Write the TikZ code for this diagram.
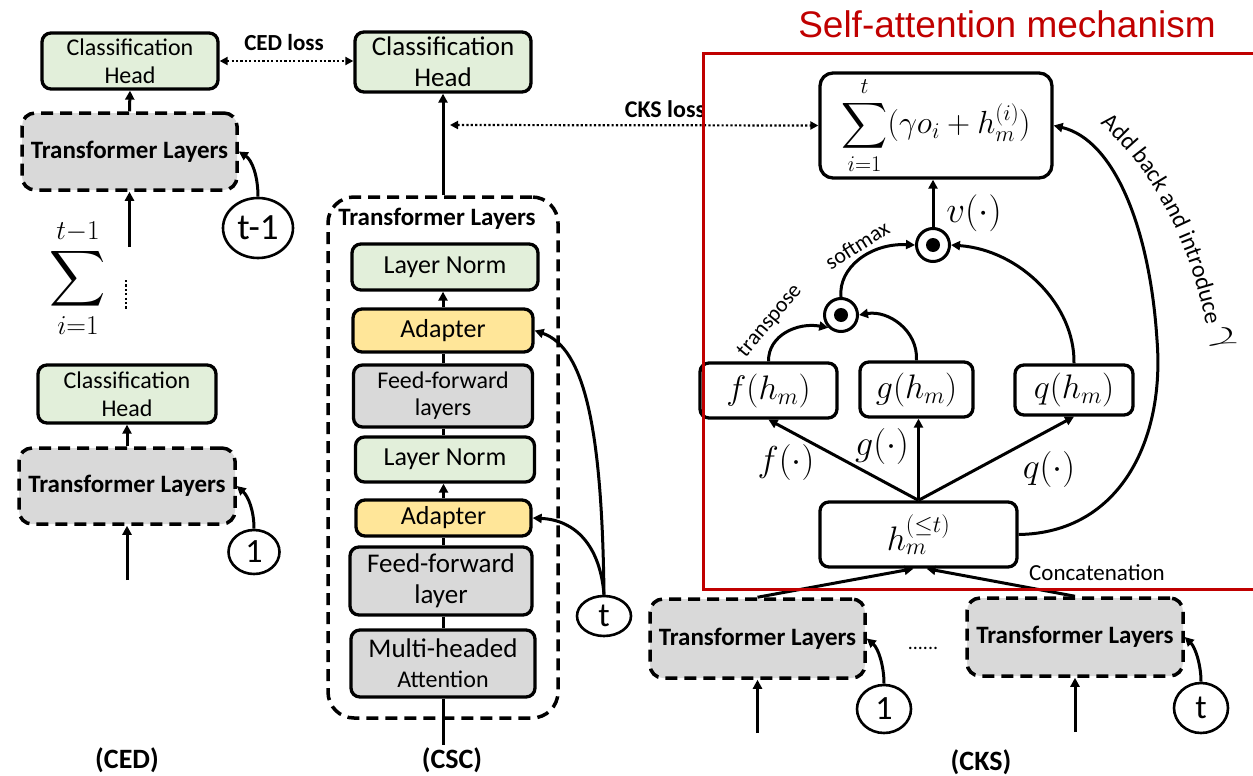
\RequirePackage{fix-cm}
\documentclass[tikz,border=0pt]{standalone}
\usepackage{exscale}
\usepackage[no-math]{fontspec}
\setmainfont{Carlito}
\newfontfamily\titlefont{Liberation Sans}
\usetikzlibrary{arrows.meta,shapes.geometric,decorations.text,calc}
\DeclareFontShape{OMX}{cmex}{m}{n}{<-> cmex10}{}

\newcommand\fsz[2]{\fontsize{#1}{#2}\selectfont}

\definecolor{boxgreen}{HTML}{E2EFDA}
\definecolor{boxgrey}{HTML}{D9D9D9}
\definecolor{boxyellow}{HTML}{FFE699}
\definecolor{framered}{HTML}{C00000}

\tikzset{
  solidbox/.style={draw, line width=3.3pt, rounded corners=9pt, align=center, inner sep=0pt},
  greenbox/.style={solidbox, fill=boxgreen},
  greybox/.style={solidbox, fill=boxgrey},
  yellowbox/.style={solidbox, fill=boxyellow},
  mathbox/.style={solidbox, fill=white},
  layerbox/.style={draw, fill=boxgrey, line width=3.5pt, dash pattern=on 12pt off 7pt,
    rounded corners=13pt, align=center, inner sep=0pt, font=\fsz{25}{28}\bfseries},
  taskcirc/.style={ellipse, draw, line width=2.6pt, inner sep=0pt, fill=white},
  odot/.style={circle, draw, line width=3pt, minimum size=33pt, inner sep=0pt, fill=white},
  arr/.style={-{Triangle[length=9pt,width=9pt]}, line width=3pt},
  plain/.style={line width=3pt},
  lossarr/.style={{Triangle[length=8pt,width=8pt]}-{Triangle[length=8pt,width=8pt]},
    line width=2.2pt, dash pattern=on 2.2pt off 2.2pt},
  caption/.style={font=\fsz{28}{30}\bfseries},
}

\begin{document}
\begin{tikzpicture}[x=1pt,y=-1pt]
\useasboundingbox (0,0) rectangle (1253,776);

% ---------------- (CED) ----------------
\node[greenbox, minimum width=176pt, minimum height=56pt, font=\fsz{24}{28}] (cedHtop) at (130,61) {Classification\\Head};
\node[layerbox, minimum width=215pt, minimum height=77pt] (cedTtop) at (129.5,151.5) {Transformer Layers};
\node[taskcirc, minimum width=70pt, minimum height=60pt, font=\fsz{37}{40}] (cedCtop) at (258,228) {t-1};
\coordinate (cedInTop) at (129.5,247);
\draw[arr] (cedTtop.north) -- (cedHtop.south);
\draw[arr] (cedInTop) -- (cedTtop.south);
\draw[arr] (cedCtop.north) .. controls (258,176) and (252,160) .. (cedTtop.east);
\node[font=\fsz{39}{40}] (cedSum) at (78,278) {$\displaystyle\sum_{i=1}^{t-1}$};
\coordinate (vdotA) at (126,280);
\coordinate (vdotB) at (126,310);
\draw[line width=2.2pt, dash pattern=on 2.2pt off 2.2pt] (vdotA) -- (vdotB);

\node[greenbox, minimum width=178pt, minimum height=58pt, font=\fsz{24}{28}] (cedHbot) at (127,394) {Classification\\Head};
\node[layerbox, minimum width=216pt, minimum height=76pt] (cedTbot) at (127,486) {Transformer Layers};
\node[taskcirc, minimum width=51pt, minimum height=44pt, font=\fsz{34}{36}] (cedCbot) at (254,552) {1};
\coordinate (cedInBot) at (127,580);
\draw[arr] (cedTbot.north) -- (cedHbot.south);
\draw[arr] (cedInBot) -- (cedTbot.south);
\draw[arr] (cedCbot.north) .. controls (254,510) and (248,496) .. (cedTbot.east);
\node[caption] (cedCap) at (127,760) {(CED)};

% ---------------- (CSC) ----------------
\node[greenbox, minimum width=176pt, minimum height=60pt, font=\fsz{27}{31}] (cscH) at (443,62) {Classification\\Head};
\node[draw, line width=3.5pt, dash pattern=on 12pt off 7pt, rounded corners=26pt,
      minimum width=230pt, minimum height=521pt, inner sep=0pt] (cscTL) at (443,457.5) {};
\node[font=\fsz{25}{28}\bfseries] (cscTLlabel) at (437,219) {Transformer Layers};
\draw[arr] (cscTL.north) -- (cscH.south);
\draw[lossarr] (cedHtop.east) -- (cedHtop.east -| cscH.west);
\node[font=\fsz{23}{26}\bfseries] (cedLoss) at (284,43) {CED loss};

\node[greenbox, minimum width=186pt, minimum height=46pt, font=\fsz{26}{30}] (lnTop) at (445,267) {Layer Norm};
\node[yellowbox, minimum width=180pt, minimum height=43pt, font=\fsz{26}{30}] (adTop) at (443,330.5) {Adapter};
\node[greybox, minimum width=179pt, minimum height=62pt, font=\fsz{24}{27}] (ffTop) at (443,396) {Feed-forward\\layers};
\node[greenbox, minimum width=179pt, minimum height=45pt, font=\fsz{26}{30}] (lnBot) at (445,459.5) {Layer Norm};
\node[yellowbox, minimum width=175pt, minimum height=36pt, font=\fsz{26}{30}] (adBot) at (443.5,518) {Adapter};
\node[greybox, minimum width=182pt, minimum height=68pt, font=\fsz{27}{31}] (ffBot) at (441,581) {Feed-forward\\layer};
\node[greybox, minimum width=184pt, minimum height=67pt, font=\fsz{27}{30}] (mha) at (443,663.5)
  {Multi-headed\\{\fsz{24}{30}Attention}};
\coordinate (cscIn) at (443,745);
\draw[plain] (mha.south) -- (cscIn);
\draw[plain] (mha.north) -- (mha.north |- ffBot.south);
\draw[plain] (ffBot.north -| adBot.south) -- (adBot.south);
\draw[arr] (adBot.north) -- (adBot.north |- lnBot.south);
\draw[plain] (lnBot.north -| ffTop.south) -- (ffTop.south);
\draw[plain] (ffTop.north) -- (adTop.south);
\draw[arr] (adTop.north) -- (adTop.north |- lnTop.south);

\node[taskcirc, minimum width=54pt, minimum height=40pt, font=\fsz{34}{36}] (cscC) at (604,616) {t};
\draw[arr] (cscC.north) .. controls (602,430) and (585,348) .. (adTop.east);
\draw[arr] (cscC.north) .. controls (600,545) and (575,520) .. (adBot.east);
\node[caption] (cscCap) at (452,760) {(CSC)};

% ---------------- (CKS) ----------------
\node[mathbox, minimum width=232pt, minimum height=105pt, rounded corners=13pt, font=\fsz{32}{34}] (sumBox) at (936,125.5)
  {$\displaystyle\sum_{i=1}^{t}(\gamma o_i+h_m^{(i)})$};
\coordinate (cksLossEnd) at (450,125);
\draw[lossarr] (cksLossEnd) -- (sumBox.west);
\node[font=\fsz{24}{26}\bfseries] (cksLoss) at (665,109) {CKS loss};

\node[odot] (odTop) at (933,245) {};
\node[odot] (odBot) at (841,315) {};
\fill (odTop.center) circle (7pt);
\fill (odBot.center) circle (7pt);
\node[mathbox, minimum width=137pt, minimum height=55pt, font=\fsz{34}{36}] (fBox) at (768.5,390.5) {$f(h_m)$};
\node[mathbox, minimum width=113pt, minimum height=55pt, font=\fsz{34}{36}] (gBox) at (916.5,389.5) {$g(h_m)$};
\node[mathbox, minimum width=118pt, minimum height=50pt, font=\fsz{34}{36}] (qBox) at (1074,390) {$q(h_m)$};
\node[mathbox, minimum width=197pt, minimum height=65pt, font=\fsz{34}{36}] (hBox) at (918.5,534.5) {$h_m^{(\le t)}$};

\draw[arr] (odTop.north) -- (sumBox.south -| odTop.north);
\node[font=\fsz{37}{40}] (vLab) at (974,213) {$v(\cdot)$};
\draw[arr] (odBot.north) .. controls (838,268) and (870,243) .. (odTop.west);
\draw[arr] (qBox.north) .. controls (1075,305) and (1020,250) .. (odTop.east);
\draw[arr] (fBox.north) .. controls (768,335) and (798,322) .. (odBot.south west);
\draw[arr] (gBox.north) .. controls (918,330) and (888,310) .. (odBot.east);
\node[font=\fsz{22}{24}, rotate=32] (softLab) at (857,245) {softmax};
\node[font=\fsz{22}{24}, rotate=50] (transLab) at (770,321) {transpose};

\draw[arr] (hBox.north) -- (fBox.south);
\draw[arr] (hBox.north) -- (gBox.south -| hBox.north);
\draw[arr] (hBox.north) -- (qBox.south);
\node[font=\fsz{36}{40}] (fLab) at (786,462) {$f(\cdot)$};
\node[font=\fsz{36}{40}] (gLab) at (882,446) {$g(\cdot)$};
\node[font=\fsz{36}{40}] (qLab) at (1049,469) {$q(\cdot)$};

\draw[arr] (hBox.east) .. controls (1120,533) and (1165,440) .. (1157,340)
  .. controls (1150,230) and (1115,140) .. (sumBox.east);
\path[decorate, decoration={text along path, text align=left,
  text={|\fsz{24}{26}|Add back and introduce}}]
  (1100,124) .. controls (1150,165) and (1190,240) .. (1207,330);
\node[font=\fsz{40}{42}, rotate=-65] (gammaLab) at (1222,340) {$\gamma$};
\node[font=\fsz{23}{26}] (concatLab) at (1097,573) {Concatenation};

\node[layerbox, minimum width=215pt, minimum height=79pt] (tlA) at (757.5,638.5) {Transformer Layers};
\node[layerbox, minimum width=216pt, minimum height=78pt] (tlB) at (1075,637) {Transformer Layers};
\node[taskcirc, minimum width=54pt, minimum height=48pt, font=\fsz{34}{36}] (cA) at (884,709) {1};
\node[taskcirc, minimum width=54pt, minimum height=50pt, font=\fsz{34}{36}] (cB) at (1201,708) {t};
\coordinate (inA) at (757.5,733);
\coordinate (inB) at (1075,732);
\draw[arr] (inA) -- (tlA.south);
\draw[arr] (inB) -- (tlB.south);
\draw[arr] (cA.north) .. controls (884,665) and (878,648) .. (tlA.east);
\draw[arr] (cB.north) .. controls (1201,664) and (1195,647) .. (tlB.east);
\draw[arr] (tlA.north) -- ($(hBox.south)+(-5,0)$);
\draw[arr] (tlB.north) -- ($(hBox.south)+(8,0)$);
\node[font=\fsz{20}{22}] (dotsLab) at (923,648) {......};
\node[caption] (cksCap) at (981,762) {(CKS)};

% red frame and its title
\node[font=\titlefont\fsz{37}{40}, text=framered] (title) at (1007,24) {Self-attention mechanism};
\draw[framered, line width=3pt] (1262,54) -- (703,54) -- (703,589) -- (1262,589);
\end{tikzpicture}
\end{document}
